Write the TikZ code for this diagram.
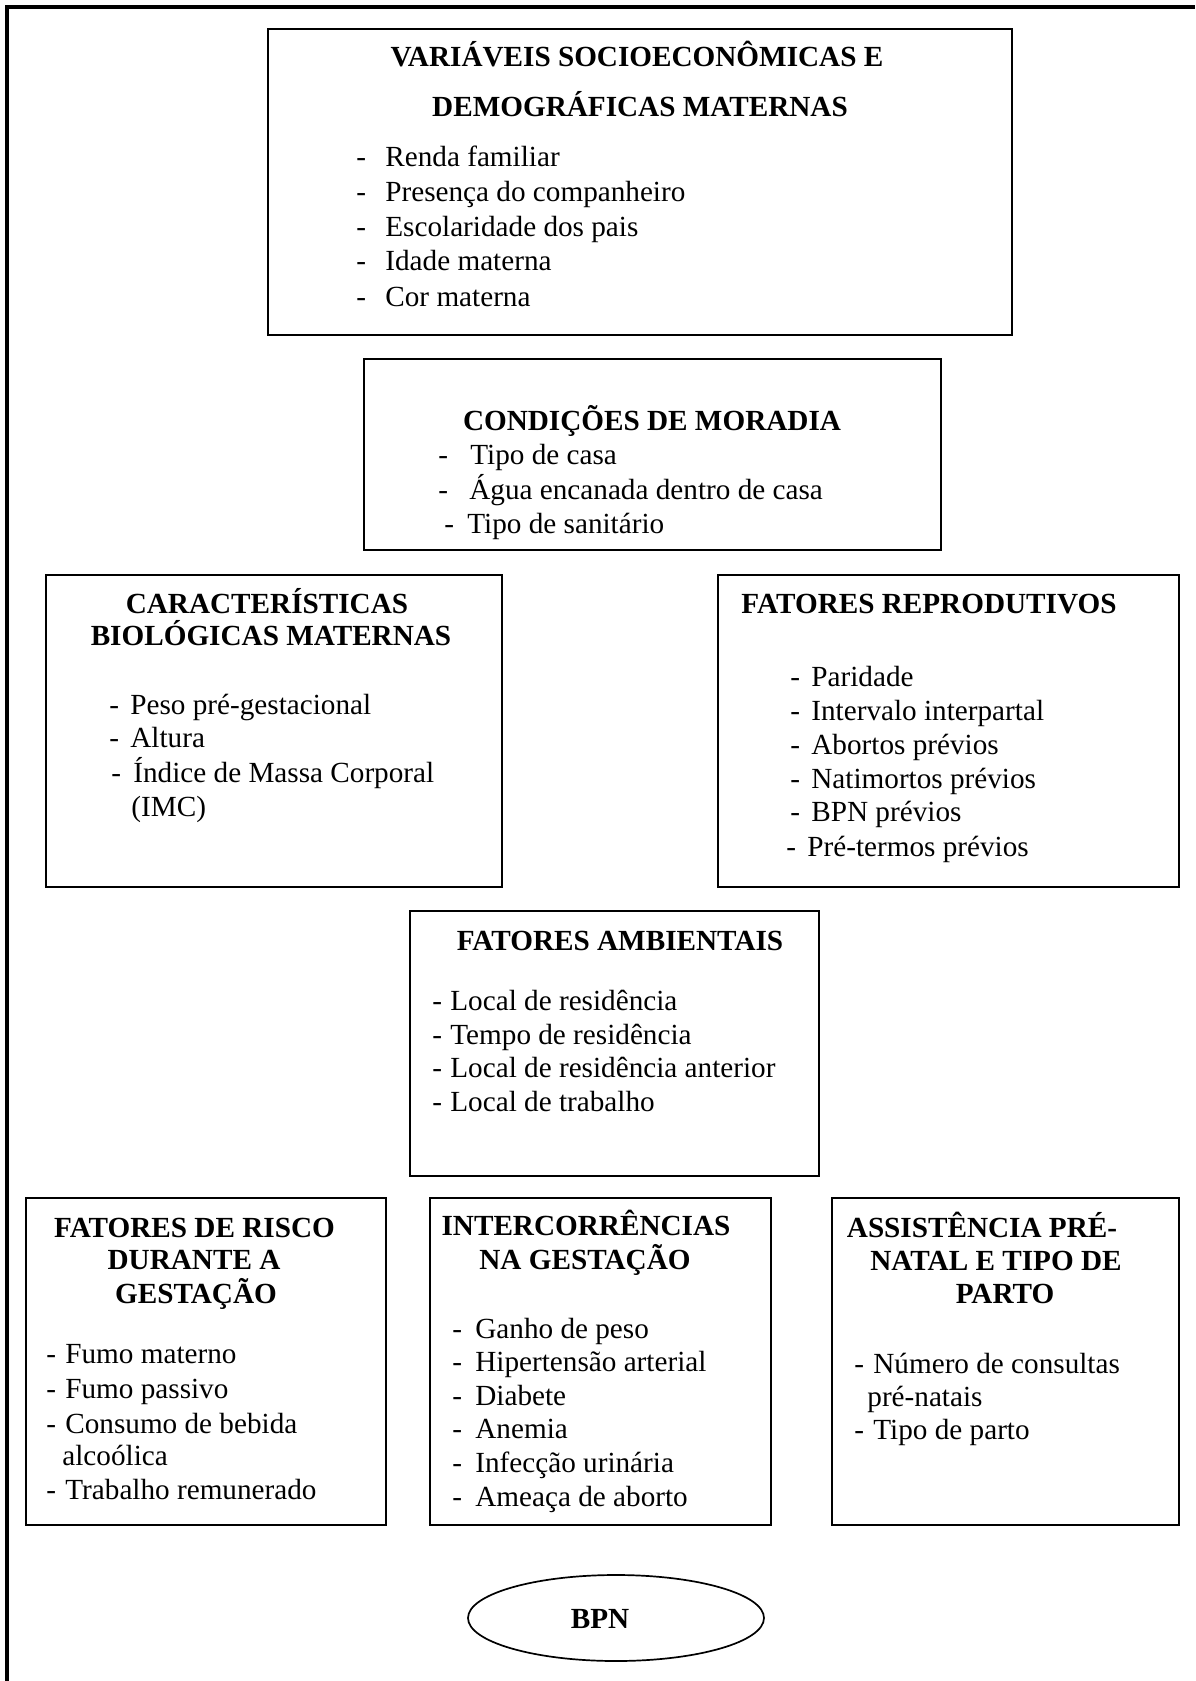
\documentclass[tikz,border=0pt]{standalone}
\usepackage{fontspec}
\setmainfont{Liberation Serif}
\usetikzlibrary{shapes.geometric}
\newcommand\bodyfnt{\fontsize{14.6pt}{17.5pt}\selectfont}
\newcommand\itemline[5]{\node[itm] (#1) at (#2,#4) {\makebox[\dimexpr(#3pt-#2pt)/2\relax][l]{-}#5};}
\newcommand\contline[4]{\node[itm] (#1) at (#2,#3) {#4};}
\newcommand\titleline[4]{\node[ttl] (#1) at (#2,#3) {#4};}
\tikzset{
  box/.style={draw, line width=0.85pt, inner sep=0pt},
  itm/.style={anchor=base west, inner sep=0pt, font=\bodyfnt},
  ttl/.style={anchor=base, inner sep=0pt, font=\bodyfnt\bfseries},
  frame/.style={line width=2pt}
}
\begin{document}
\begin{tikzpicture}[x=0.5pt,y=-0.5pt]
\useasboundingbox (0,0) rectangle (1195,1681);
\draw[frame] (7,1681) -- (7,7) -- (1195,7);

% boxes
\node[box, minimum width=372pt, minimum height=153pt] (b1) at (640,182) {};
\node[box, minimum width=288.5pt, minimum height=95.5pt] (b2) at (652.5,454.5) {};
\node[box, minimum width=228pt, minimum height=156pt] (b3) at (274,731) {};
\node[box, minimum width=230.5pt, minimum height=156pt] (b4) at (948.5,731) {};
\node[box, minimum width=204.5pt, minimum height=132.5pt] (b5) at (614.5,1043.5) {};
\node[box, minimum width=180pt, minimum height=163.5pt] (b6) at (206,1361.5) {};
\node[box, minimum width=170.5pt, minimum height=163.5pt] (b7) at (600.5,1361.5) {};
\node[box, minimum width=173.5pt, minimum height=163.5pt] (b8) at (1005.5,1361.5) {};
\node[draw, ellipse, line width=0.85pt, minimum width=148pt, minimum height=43pt, inner sep=0pt] (bpn) at (616,1618) {};
\node[ttl] (bpnt) at (600,1628) {BPN};

% box 1
\titleline{t1a}{637}{66}{VARIÁVEIS SOCIOECONÔMICAS E}
\titleline{t1b}{640}{116}{DEMOGRÁFICAS MATERNAS}
\itemline{i1a}{356}{385}{166}{Renda familiar}
\itemline{i1b}{356}{385}{201}{Presença do companheiro}
\itemline{i1c}{356}{385}{236}{Escolaridade dos pais}
\itemline{i1d}{356}{385}{270}{Idade materna}
\itemline{i1e}{356}{385}{306}{Cor materna}

% box 2
\titleline{t2a}{652}{430}{CONDIÇÕES DE MORADIA}
\itemline{i2a}{438}{470}{464}{Tipo de casa}
\itemline{i2b}{438}{469}{499}{Água encanada dentro de casa}
\itemline{i2c}{444}{467}{533}{Tipo de sanitário}

% box 3
\titleline{t3a}{267}{613}{CARACTERÍSTICAS}
\titleline{t3b}{271}{645}{BIOLÓGICAS MATERNAS}
\itemline{i3a}{109}{130}{714}{Peso pré-gestacional}
\itemline{i3b}{109}{130}{747}{Altura}
\itemline{i3c}{111}{133}{782}{Índice de Massa Corporal}
\contline{i3d}{131}{816}{(IMC)}

% box 4
\titleline{t4a}{929}{613}{FATORES REPRODUTIVOS}
\itemline{i4a}{790}{811}{686}{Paridade}
\itemline{i4b}{790}{811}{720}{Intervalo interpartal}
\itemline{i4c}{790}{811}{754}{Abortos prévios}
\itemline{i4d}{790}{811}{788}{Natimortos prévios}
\itemline{i4e}{790}{811}{821}{BPN prévios}
\itemline{i4f}{786}{807}{856}{Pré-termos prévios}

% box 5
\titleline{t5a}{620}{950}{FATORES AMBIENTAIS}
\itemline{i5a}{432}{450}{1010}{Local de residência}
\itemline{i5b}{432}{450}{1044}{Tempo de residência}
\itemline{i5c}{432}{450}{1077}{Local de residência anterior}
\itemline{i5d}{432}{450}{1111}{Local de trabalho}

% box 6
\titleline{t6a}{194.5}{1237}{FATORES DE RISCO}
\titleline{t6b}{194}{1269}{DURANTE A}
\titleline{t6c}{196}{1303}{GESTAÇÃO}
\itemline{i6a}{46}{65}{1363}{Fumo materno}
\itemline{i6b}{46}{65}{1398}{Fumo passivo}
\itemline{i6c}{46}{65}{1433}{Consumo de bebida}
\contline{i6d}{62}{1465}{alcoólica}
\itemline{i6e}{46}{65}{1499}{Trabalho remunerado}

% box 7
\titleline{t7a}{586}{1235}{INTERCORRÊNCIAS}
\titleline{t7b}{585}{1269}{NA GESTAÇÃO}
\itemline{i7a}{452}{475}{1338}{Ganho de peso}
\itemline{i7b}{452}{475}{1371}{Hipertensão arterial}
\itemline{i7c}{452}{475}{1405}{Diabete}
\itemline{i7d}{452}{475}{1438}{Anemia}
\itemline{i7e}{452}{475}{1472}{Infecção urinária}
\itemline{i7f}{452}{475}{1506}{Ameaça de aborto}

% box 8
\titleline{t8a}{982}{1237}{ASSISTÊNCIA PRÉ-}
\titleline{t8b}{996}{1270}{NATAL E TIPO DE}
\titleline{t8c}{1005}{1303}{PARTO}
\itemline{i8a}{854}{873}{1373}{Número de consultas}
\contline{i8b}{867}{1406}{pré-natais}
\itemline{i8c}{854}{873}{1439}{Tipo de parto}
\end{tikzpicture}
\end{document}
